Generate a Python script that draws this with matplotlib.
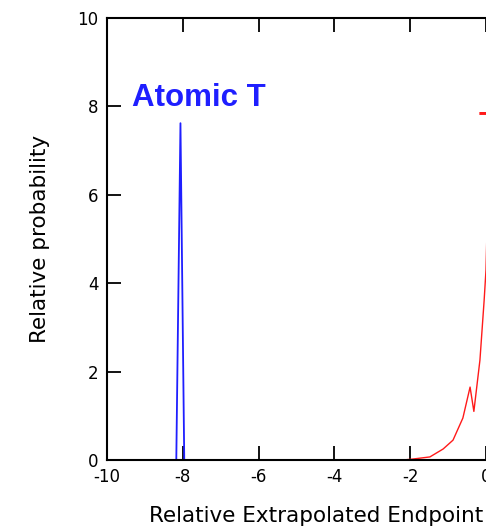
"""Endpoint spectra: atomic vs. molecular tritium, relative probability."""

import matplotlib

matplotlib.use("Agg")
import matplotlib.pyplot as plt  # noqa: E402

# atomic T line (narrow peak near -8 eV)
atomic_x = [-10.0, -8.17, -8.06, -7.96, 2.0]
atomic_y = [0.0, 0.0, 7.62, 0.0, 0.0]

# molecular T2 tail rising toward the endpoint
mol_x = [-10.0, -2.2, -1.95, -1.48, -1.13, -0.87, -0.61, -0.42, -0.32, -0.16, -0.05, 0.0, 0.05]
mol_y = [0.0, 0.0, 0.02, 0.07, 0.25, 0.45, 0.95, 1.65, 1.10, 2.26, 3.60, 4.30, 6.00]

xticks = [-10, -8, -6, -4, -2, 0, 2]
yticks = [0, 2, 4, 6, 8, 10]

BLUE = "#1f1fff"
RED = "#ff1a1a"

plt.rcParams["font.family"] = "DejaVu Sans"
plt.rcParams["axes.unicode_minus"] = False

fig = plt.figure(figsize=(4.86, 5.32), dpi=100)
# axes run past the right edge of the figure
ax = fig.add_axes([0.220, 0.1353, 0.936, 0.8309])

ax.plot(mol_x, mol_y, color=RED, lw=1.0)
ax.plot(atomic_x, atomic_y, color=BLUE, lw=1.3)

ax.set_xlim(-10, 2)
ax.set_ylim(0, 10)
ax.set_xticks(xticks)
ax.set_yticks(yticks)
ax.tick_params(direction="in", length=10, width=1.3, labelsize=12,
               top=True, right=True, pad=6)
for s in ax.spines.values():
    s.set_linewidth(1.5)

label_font = dict(family="Liberation Sans", fontsize=22.5, fontweight="bold")
ax.text(-9.35, 8.0, "Atomic T", color=BLUE, ha="left", va="baseline", **label_font)
ax.text(-0.22, 7.35, "T$_2$", color=RED, ha="left", va="baseline", **label_font)

ax.set_ylabel("Relative probability", fontsize=15.5)
ax.yaxis.set_label_coords(-0.125, 0.5)
ax.set_xlabel("Relative Extrapolated Endpoint (eV)", fontsize=15.5, loc="left")
ax.xaxis.set_label_coords(0.092, -0.103)

fig.savefig("out.png", dpi=100)
